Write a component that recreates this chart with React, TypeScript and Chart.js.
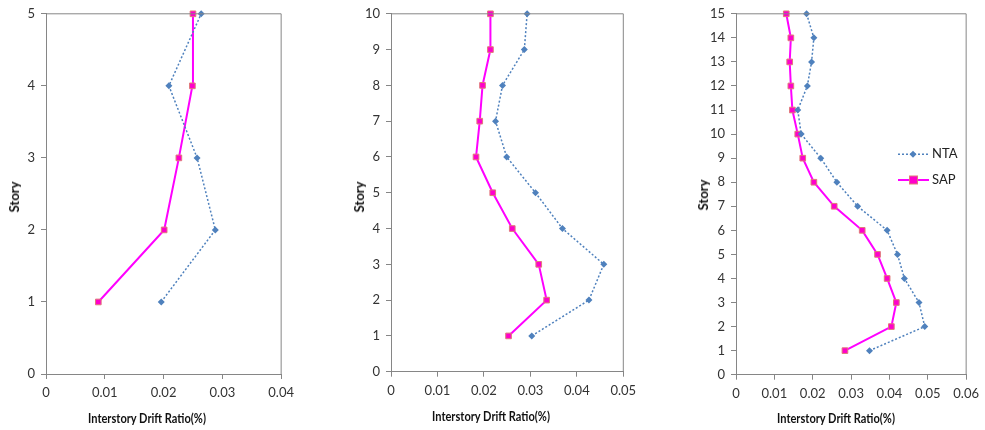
import React, { useEffect, useRef } from "react";
import { Chart, registerables } from "chart.js";

Chart.register(...registerables);

// Panel 1 (5 stories)
const stories5 = [1, 2, 3, 4, 5];
const nta5 = [0.0196, 0.0288, 0.0257, 0.0209, 0.0264];
const sap5 = [0.0089, 0.0201, 0.0226, 0.0249, 0.025];

// Panel 2 (10 stories)
const stories10 = [1, 2, 3, 4, 5, 6, 7, 8, 9, 10];
const nta10 = [0.0303, 0.0426, 0.0458, 0.0369, 0.0311, 0.0249, 0.0225, 0.024, 0.0287, 0.0293];
const sap10 = [0.0253, 0.0335, 0.0318, 0.0261, 0.0219, 0.0183, 0.0191, 0.0197, 0.0214, 0.0214];

// Panel 3 (15 stories)
const stories15 = [1, 2, 3, 4, 5, 6, 7, 8, 9, 10, 11, 12, 13, 14, 15];
const nta15 = [0.0348, 0.0492, 0.0477, 0.0439, 0.0421, 0.0394, 0.0317, 0.0263, 0.0221, 0.017, 0.0161, 0.0186, 0.0197, 0.0203, 0.0184];
const sap15 = [0.0284, 0.0405, 0.0418, 0.0394, 0.0369, 0.0329, 0.0256, 0.0203, 0.0174, 0.0161, 0.0147, 0.0143, 0.014, 0.0143, 0.0131];

const seriesNames = ["NTA", "SAP"];
const xAxisTitle = "Interstory Drift Ratio(%)";
const yAxisTitle = "Story";

const NTA_COLOR = "#4F81BD";
const SAP_LINE = "#FF00FF";
const SAP_FILL = "#FF00CC";
const SAP_BORDER = "#E07A7A";
const AXIS_COLOR = "#868686";
const FONT = "Lato, 'Liberation Sans', sans-serif";

type PanelProps = {
  left: number;
  width: number;
  yW: number;
  padRight: number;
  padTop: number;
  xH: number;
  xMax: number;
  yMax: number;
  stories: number[];
  nta: number[];
  sap: number[];
  legend?: { x: number; y1: number; y2: number };
};

function Panel(p: PanelProps) {
  const ref = useRef<HTMLCanvasElement | null>(null);
  useEffect(() => {
    if (!ref.current) return;
    const frame = {
      id: "frame",
      afterDraw(chart: any) {
        const { ctx, chartArea } = chart;
        ctx.save();
        ctx.strokeStyle = AXIS_COLOR;
        ctx.lineWidth = 1;
        ctx.beginPath();
        ctx.moveTo(chartArea.left, chartArea.top);
        ctx.lineTo(chartArea.right, chartArea.top);
        ctx.lineTo(chartArea.right, chartArea.bottom);
        ctx.stroke();
        if (p.legend) {
          const lg = p.legend;
          // NTA
          ctx.strokeStyle = NTA_COLOR;
          ctx.lineWidth = 1.5;
          ctx.setLineDash([2, 2]);
          ctx.beginPath();
          ctx.moveTo(lg.x, lg.y1);
          ctx.lineTo(lg.x + 30, lg.y1);
          ctx.stroke();
          ctx.setLineDash([]);
          ctx.fillStyle = NTA_COLOR;
          ctx.beginPath();
          ctx.moveTo(lg.x + 15, lg.y1 - 3.5);
          ctx.lineTo(lg.x + 18.5, lg.y1);
          ctx.lineTo(lg.x + 15, lg.y1 + 3.5);
          ctx.lineTo(lg.x + 11.5, lg.y1);
          ctx.closePath();
          ctx.fill();
          // SAP
          ctx.strokeStyle = SAP_LINE;
          ctx.lineWidth = 2;
          ctx.beginPath();
          ctx.moveTo(lg.x, lg.y2);
          ctx.lineTo(lg.x + 31, lg.y2);
          ctx.stroke();
          ctx.fillStyle = SAP_FILL;
          ctx.fillRect(lg.x + 11.5, lg.y2 - 4, 8, 8);
          ctx.strokeStyle = SAP_BORDER;
          ctx.lineWidth = 1;
          ctx.strokeRect(lg.x + 11.5, lg.y2 - 4, 8, 8);
          ctx.fillStyle = "#222";
          ctx.font = "13px " + FONT;
          ctx.textBaseline = "middle";
          ctx.fillText(seriesNames[0], lg.x + 34, lg.y1);
          ctx.fillText(seriesNames[1], lg.x + 34, lg.y2);
        }
        ctx.restore();
      },
    };
    const tickFont = { family: FONT, size: 13 };
    const chart = new Chart(ref.current, {
      type: "line",
      data: {
        datasets: [
          {
            label: seriesNames[0],
            data: p.stories.map((s, i) => ({ x: p.nta[i], y: s })),
            borderColor: NTA_COLOR,
            backgroundColor: NTA_COLOR,
            borderWidth: 1.5,
            borderDash: [2, 2],
            pointStyle: "rectRot",
            pointRadius: 3.5,
            pointBorderWidth: 0,
            tension: 0,
            clip: false,
          },
          {
            label: seriesNames[1],
            data: p.stories.map((s, i) => ({ x: p.sap[i], y: s })),
            borderColor: SAP_LINE,
            backgroundColor: SAP_FILL,
            pointBorderColor: SAP_BORDER,
            pointBackgroundColor: SAP_FILL,
            borderWidth: 2,
            pointStyle: "rect",
            pointRadius: 4,
            pointBorderWidth: 1,
            tension: 0,
            clip: false,
          },
        ],
      },
      options: {
        animation: false,
        responsive: false,
        maintainAspectRatio: false,
        devicePixelRatio: 1,
        layout: { padding: { top: p.padTop, right: p.padRight, bottom: 0, left: 0 } },
        plugins: { legend: { display: false }, tooltip: { enabled: false } },
        scales: {
          x: {
            type: "linear",
            min: 0,
            max: p.xMax,
            afterFit: (s: any) => {
              s.height = p.xH;
            },
            ticks: {
              stepSize: 0.01,
              color: "#333",
              font: tickFont,
              padding: 6,
              maxRotation: 0,
              callback: (v: any) => String(Number(Number(v).toFixed(2))),
            },
            grid: { drawOnChartArea: false, tickLength: 5, color: AXIS_COLOR },
            border: { color: AXIS_COLOR },
          },
          y: {
            type: "linear",
            min: 0,
            max: p.yMax,
            afterFit: (s: any) => {
              s.width = p.yW;
            },
            ticks: { stepSize: 1, color: "#333", font: tickFont, padding: 6 },
            grid: { drawOnChartArea: false, tickLength: 5, color: AXIS_COLOR },
            border: { color: AXIS_COLOR },
          },
        },
      },
      plugins: [frame],
    } as any);
    return () => chart.destroy();
  }, []);
  return (
    <canvas
      ref={ref}
      width={p.width}
      height={430}
      style={{ position: "absolute", left: p.left, top: 0, width: p.width, height: 430 }}
    />
  );
}

const titleStyle: React.CSSProperties = {
  position: "absolute",
  fontFamily: FONT,
  fontWeight: "bold",
  fontSize: 13,
  color: "#111",
  whiteSpace: "nowrap",
  transform: "translate(-50%, -50%)",
  lineHeight: "14px",
};

function XTitle({ cx, cy }: { cx: number; cy: number }) {
  return (
    <div style={{ ...titleStyle, left: cx, top: cy, transform: "translate(-50%, -50%) scaleX(0.85)" }}>
      {xAxisTitle}
    </div>
  );
}
function YTitle({ cx, cy }: { cx: number; cy: number }) {
  return (
    <div style={{ ...titleStyle, left: cx, top: cy, transform: "translate(-50%, -50%) rotate(-90deg)" }}>
      {yAxisTitle}
    </div>
  );
}

export default function App() {
  return (
    <div style={{ position: "fixed", left: 0, top: 0, width: 985, height: 430, background: "#fff", overflow: "hidden" }}>
      <Panel left={0} width={300} yW={46} padRight={18} padTop={12.7} xH={56} xMax={0.04} yMax={5} stories={stories5} nta={nta5} sap={sap5} />
      <Panel left={340} width={303} yW={51} padRight={19.7} padTop={12.3} xH={58.3} xMax={0.05} yMax={10} stories={stories10} nta={nta10} sap={sap10} />
      <Panel
        left={680}
        width={305}
        yW={56}
        padRight={13.3}
        padTop={11.7}
        xH={55.3}
        xMax={0.06}
        yMax={15}
        stories={stories15}
        nta={nta15}
        sap={sap15}
        legend={{ x: 218, y1: 154.3, y2: 180 }}
      />
      <YTitle cx={14} cy={197} />
      <YTitle cx={359} cy={197} />
      <YTitle cx={703} cy={195} />
      <XTitle cx={146.7} cy={417.7} />
      <XTitle cx={491} cy={416} />
      <XTitle cx={836} cy={417.7} />
    </div>
  );
}
